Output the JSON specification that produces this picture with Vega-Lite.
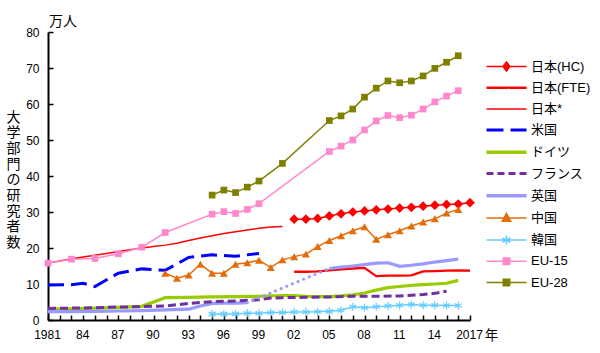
{
  "$schema": "https://vega.github.io/schema/vega-lite/v6.json",
  "width": 422,
  "height": 288,
  "autosize": {"type": "none"},
  "padding": {"left": 48, "top": 32, "right": 130, "bottom": 33},
  "background": "white",
  "config": {"font": "Liberation Sans, Noto Sans CJK JP", "view": {"stroke": null}},
  "title": {"text": "万人", "anchor": "start", "frame": "group", "fontSize": 14, "fontWeight": "normal", "font": "Noto Sans CJK JP", "offset": 6, "dy": 9, "dx": 1, "color": "black"},
  "datasets": {
    "d": [
      {"s": "日本(HC)", "x": 2002, "v": 28.0}, {"s": "日本(HC)", "x": 2003, "v": 28.0}, {"s": "日本(HC)", "x": 2004, "v": 28.2}, {"s": "日本(HC)", "x": 2005, "v": 28.9}, {"s": "日本(HC)", "x": 2006, "v": 29.5}, {"s": "日本(HC)", "x": 2007, "v": 30.0}, {"s": "日本(HC)", "x": 2008, "v": 30.3}, {"s": "日本(HC)", "x": 2009, "v": 30.6}, {"s": "日本(HC)", "x": 2010, "v": 30.8}, {"s": "日本(HC)", "x": 2011, "v": 31.1}, {"s": "日本(HC)", "x": 2012, "v": 31.3}, {"s": "日本(HC)", "x": 2013, "v": 31.6}, {"s": "日本(HC)", "x": 2014, "v": 31.9}, {"s": "日本(HC)", "x": 2015, "v": 32.1}, {"s": "日本(HC)", "x": 2016, "v": 32.2}, {"s": "日本(HC)", "x": 2017, "v": 32.6},
      {"s": "日本(FTE)", "x": 2002, "v": 13.4}, {"s": "日本(FTE)", "x": 2003, "v": 13.4}, {"s": "日本(FTE)", "x": 2004, "v": 13.5}, {"s": "日本(FTE)", "x": 2005, "v": 13.8}, {"s": "日本(FTE)", "x": 2006, "v": 14.1}, {"s": "日本(FTE)", "x": 2007, "v": 14.3}, {"s": "日本(FTE)", "x": 2008, "v": 14.5}, {"s": "日本(FTE)", "x": 2009, "v": 12.2}, {"s": "日本(FTE)", "x": 2010, "v": 12.3}, {"s": "日本(FTE)", "x": 2011, "v": 12.3}, {"s": "日本(FTE)", "x": 2012, "v": 12.4}, {"s": "日本(FTE)", "x": 2013, "v": 13.5}, {"s": "日本(FTE)", "x": 2014, "v": 13.6}, {"s": "日本(FTE)", "x": 2015, "v": 13.7}, {"s": "日本(FTE)", "x": 2016, "v": 13.8}, {"s": "日本(FTE)", "x": 2017, "v": 13.7},
      {"s": "日本*", "x": 1981, "v": 15.8}, {"s": "日本*", "x": 1982, "v": 16.4}, {"s": "日本*", "x": 1983, "v": 17.0}, {"s": "日本*", "x": 1984, "v": 17.5}, {"s": "日本*", "x": 1985, "v": 18.0}, {"s": "日本*", "x": 1986, "v": 18.5}, {"s": "日本*", "x": 1987, "v": 19.0}, {"s": "日本*", "x": 1988, "v": 19.5}, {"s": "日本*", "x": 1989, "v": 20.0}, {"s": "日本*", "x": 1990, "v": 20.4}, {"s": "日本*", "x": 1991, "v": 20.8}, {"s": "日本*", "x": 1992, "v": 21.3}, {"s": "日本*", "x": 1993, "v": 22.1}, {"s": "日本*", "x": 1994, "v": 22.8}, {"s": "日本*", "x": 1995, "v": 23.4}, {"s": "日本*", "x": 1996, "v": 24.0}, {"s": "日本*", "x": 1997, "v": 24.5}, {"s": "日本*", "x": 1998, "v": 25.0}, {"s": "日本*", "x": 1999, "v": 25.5}, {"s": "日本*", "x": 2000, "v": 25.8}, {"s": "日本*", "x": 2001, "v": 26.0},
      {"s": "米国", "x": 1981, "v": 9.7}, {"s": "米国", "x": 1983, "v": 9.8}, {"s": "米国", "x": 1984, "v": 10.2}, {"s": "米国", "x": 1985, "v": 9.3}, {"s": "米国", "x": 1987, "v": 13.0}, {"s": "米国", "x": 1989, "v": 14.2}, {"s": "米国", "x": 1991, "v": 13.8}, {"s": "米国", "x": 1993, "v": 17.4}, {"s": "米国", "x": 1995, "v": 18.1}, {"s": "米国", "x": 1997, "v": 17.7}, {"s": "米国", "x": 1999, "v": 18.5},
      {"s": "ドイツ", "x": 1981, "v": 3.0}, {"s": "ドイツ", "x": 1983, "v": 3.1}, {"s": "ドイツ", "x": 1985, "v": 3.3}, {"s": "ドイツ", "x": 1987, "v": 3.5}, {"s": "ドイツ", "x": 1989, "v": 3.8}, {"s": "ドイツ", "x": 1991, "v": 6.2}, {"s": "ドイツ", "x": 1993, "v": 6.3}, {"s": "ドイツ", "x": 1995, "v": 6.4}, {"s": "ドイツ", "x": 1997, "v": 6.5}, {"s": "ドイツ", "x": 1999, "v": 6.6}, {"s": "ドイツ", "x": 2001, "v": 6.8}, {"s": "ドイツ", "x": 2002, "v": 6.8}, {"s": "ドイツ", "x": 2003, "v": 6.6}, {"s": "ドイツ", "x": 2004, "v": 6.5}, {"s": "ドイツ", "x": 2005, "v": 6.5}, {"s": "ドイツ", "x": 2006, "v": 6.7}, {"s": "ドイツ", "x": 2007, "v": 7.0}, {"s": "ドイツ", "x": 2008, "v": 7.5}, {"s": "ドイツ", "x": 2009, "v": 8.3}, {"s": "ドイツ", "x": 2010, "v": 9.0}, {"s": "ドイツ", "x": 2011, "v": 9.3}, {"s": "ドイツ", "x": 2012, "v": 9.6}, {"s": "ドイツ", "x": 2013, "v": 9.8}, {"s": "ドイツ", "x": 2014, "v": 10.0}, {"s": "ドイツ", "x": 2015, "v": 10.2}, {"s": "ドイツ", "x": 2016, "v": 11.0},
      {"s": "フランス", "x": 1981, "v": 3.2}, {"s": "フランス", "x": 1983, "v": 3.3}, {"s": "フランス", "x": 1985, "v": 3.4}, {"s": "フランス", "x": 1987, "v": 3.6}, {"s": "フランス", "x": 1989, "v": 3.7}, {"s": "フランス", "x": 1991, "v": 3.9}, {"s": "フランス", "x": 1993, "v": 4.6}, {"s": "フランス", "x": 1995, "v": 5.1}, {"s": "フランス", "x": 1997, "v": 5.3}, {"s": "フランス", "x": 1999, "v": 5.6}, {"s": "フランス", "x": 2000, "v": 6.1}, {"s": "フランス", "x": 2001, "v": 6.2}, {"s": "フランス", "x": 2003, "v": 6.3}, {"s": "フランス", "x": 2005, "v": 6.4}, {"s": "フランス", "x": 2007, "v": 6.6}, {"s": "フランス", "x": 2009, "v": 6.6}, {"s": "フランス", "x": 2011, "v": 6.7}, {"s": "フランス", "x": 2012, "v": 6.9}, {"s": "フランス", "x": 2013, "v": 7.1}, {"s": "フランス", "x": 2014, "v": 7.4}, {"s": "フランス", "x": 2015, "v": 8.0},
      {"s": "英国", "g": "a", "x": 1981, "v": 2.3}, {"s": "英国", "g": "a", "x": 1983, "v": 2.3}, {"s": "英国", "g": "a", "x": 1985, "v": 2.4}, {"s": "英国", "g": "a", "x": 1987, "v": 2.5}, {"s": "英国", "g": "a", "x": 1989, "v": 2.6}, {"s": "英国", "g": "a", "x": 1991, "v": 2.8}, {"s": "英国", "g": "a", "x": 1993, "v": 3.0}, {"s": "英国", "g": "a", "x": 1994, "v": 3.9}, {"s": "英国", "g": "a", "x": 1995, "v": 4.6}, {"s": "英国", "g": "a", "x": 1996, "v": 4.7}, {"s": "英国", "g": "a", "x": 1997, "v": 4.7}, {"s": "英国", "g": "a", "x": 1998, "v": 4.8},
      {"s": "英国", "g": "gap", "x": 1998, "v": 4.8}, {"s": "英国", "g": "gap", "x": 2005, "v": 14.3},
      {"s": "英国", "g": "b", "x": 2005, "v": 14.3}, {"s": "英国", "g": "b", "x": 2006, "v": 14.7}, {"s": "英国", "g": "b", "x": 2007, "v": 15.0}, {"s": "英国", "g": "b", "x": 2008, "v": 15.4}, {"s": "英国", "g": "b", "x": 2009, "v": 15.8}, {"s": "英国", "g": "b", "x": 2010, "v": 15.9}, {"s": "英国", "g": "b", "x": 2011, "v": 14.9}, {"s": "英国", "g": "b", "x": 2012, "v": 15.2}, {"s": "英国", "g": "b", "x": 2013, "v": 15.6}, {"s": "英国", "g": "b", "x": 2014, "v": 16.1}, {"s": "英国", "g": "b", "x": 2015, "v": 16.5}, {"s": "英国", "g": "b", "x": 2016, "v": 16.9},
      {"s": "中国", "x": 1991, "v": 13.0}, {"s": "中国", "x": 1992, "v": 11.6}, {"s": "中国", "x": 1993, "v": 12.5}, {"s": "中国", "x": 1994, "v": 15.5}, {"s": "中国", "x": 1995, "v": 13.0}, {"s": "中国", "x": 1996, "v": 13.0}, {"s": "中国", "x": 1997, "v": 15.5}, {"s": "中国", "x": 1998, "v": 15.9}, {"s": "中国", "x": 1999, "v": 16.6}, {"s": "中国", "x": 2000, "v": 14.6}, {"s": "中国", "x": 2001, "v": 16.7}, {"s": "中国", "x": 2002, "v": 17.6}, {"s": "中国", "x": 2003, "v": 18.3}, {"s": "中国", "x": 2004, "v": 20.4}, {"s": "中国", "x": 2005, "v": 22.1}, {"s": "中国", "x": 2006, "v": 23.4}, {"s": "中国", "x": 2007, "v": 24.8}, {"s": "中国", "x": 2008, "v": 25.9}, {"s": "中国", "x": 2009, "v": 22.4}, {"s": "中国", "x": 2010, "v": 23.7}, {"s": "中国", "x": 2011, "v": 24.8}, {"s": "中国", "x": 2012, "v": 26.1}, {"s": "中国", "x": 2013, "v": 27.2}, {"s": "中国", "x": 2014, "v": 28.1}, {"s": "中国", "x": 2015, "v": 29.7}, {"s": "中国", "x": 2016, "v": 30.7},
      {"s": "韓国", "x": 1995, "v": 1.7}, {"s": "韓国", "x": 1996, "v": 1.7}, {"s": "韓国", "x": 1997, "v": 1.7}, {"s": "韓国", "x": 1998, "v": 1.85}, {"s": "韓国", "x": 1999, "v": 1.85}, {"s": "韓国", "x": 2000, "v": 2.1}, {"s": "韓国", "x": 2001, "v": 2.1}, {"s": "韓国", "x": 2002, "v": 2.2}, {"s": "韓国", "x": 2003, "v": 2.2}, {"s": "韓国", "x": 2004, "v": 2.3}, {"s": "韓国", "x": 2005, "v": 2.4}, {"s": "韓国", "x": 2006, "v": 2.7}, {"s": "韓国", "x": 2007, "v": 3.7}, {"s": "韓国", "x": 2008, "v": 3.4}, {"s": "韓国", "x": 2009, "v": 3.7}, {"s": "韓国", "x": 2010, "v": 3.9}, {"s": "韓国", "x": 2011, "v": 4.1}, {"s": "韓国", "x": 2012, "v": 4.3}, {"s": "韓国", "x": 2013, "v": 4.1}, {"s": "韓国", "x": 2014, "v": 4.1}, {"s": "韓国", "x": 2015, "v": 4.0}, {"s": "韓国", "x": 2016, "v": 4.0},
      {"s": "EU-15", "x": 1981, "v": 15.8}, {"s": "EU-15", "x": 1983, "v": 16.9}, {"s": "EU-15", "x": 1985, "v": 17.1}, {"s": "EU-15", "x": 1987, "v": 18.4}, {"s": "EU-15", "x": 1989, "v": 20.2}, {"s": "EU-15", "x": 1991, "v": 24.3}, {"s": "EU-15", "x": 1995, "v": 29.4}, {"s": "EU-15", "x": 1996, "v": 30.1}, {"s": "EU-15", "x": 1997, "v": 29.6}, {"s": "EU-15", "x": 1998, "v": 30.7}, {"s": "EU-15", "x": 1999, "v": 32.3}, {"s": "EU-15", "x": 2005, "v": 46.8}, {"s": "EU-15", "x": 2006, "v": 48.3}, {"s": "EU-15", "x": 2007, "v": 50.0}, {"s": "EU-15", "x": 2008, "v": 52.8}, {"s": "EU-15", "x": 2009, "v": 55.3}, {"s": "EU-15", "x": 2010, "v": 56.8}, {"s": "EU-15", "x": 2011, "v": 56.2}, {"s": "EU-15", "x": 2012, "v": 56.9}, {"s": "EU-15", "x": 2013, "v": 58.6}, {"s": "EU-15", "x": 2014, "v": 60.6}, {"s": "EU-15", "x": 2015, "v": 62.2}, {"s": "EU-15", "x": 2016, "v": 63.7},
      {"s": "EU-28", "x": 1995, "v": 34.7}, {"s": "EU-28", "x": 1996, "v": 36.1}, {"s": "EU-28", "x": 1997, "v": 35.4}, {"s": "EU-28", "x": 1998, "v": 36.9}, {"s": "EU-28", "x": 1999, "v": 38.6}, {"s": "EU-28", "x": 2001, "v": 43.5}, {"s": "EU-28", "x": 2005, "v": 55.4}, {"s": "EU-28", "x": 2006, "v": 56.7}, {"s": "EU-28", "x": 2007, "v": 58.6}, {"s": "EU-28", "x": 2008, "v": 61.9}, {"s": "EU-28", "x": 2009, "v": 64.4}, {"s": "EU-28", "x": 2010, "v": 66.4}, {"s": "EU-28", "x": 2011, "v": 65.9}, {"s": "EU-28", "x": 2012, "v": 66.4}, {"s": "EU-28", "x": 2013, "v": 67.8}, {"s": "EU-28", "x": 2014, "v": 69.9}, {"s": "EU-28", "x": 2015, "v": 71.6}, {"s": "EU-28", "x": 2016, "v": 73.4}
    ]
  },
  "data": {"name": "d"},
  "encoding": {
    "x": {
      "field": "x", "type": "quantitative",
      "scale": {"domain": [1981, 2017], "nice": false, "zero": false},
      "axis": {
        "values": [1981, 1982, 1983, 1984, 1985, 1986, 1987, 1988, 1989, 1990, 1991, 1992, 1993, 1994, 1995, 1996, 1997, 1998, 1999, 2000, 2001, 2002, 2003, 2004, 2005, 2006, 2007, 2008, 2009, 2010, 2011, 2012, 2013, 2014, 2015, 2016, 2017],
        "format": "d",
        "labelExpr": "(datum.value - 1981) % 3 == 0 ? ((datum.value == 1981 || datum.value == 2017) ? datum.label : slice(datum.label, 2)) : ''",
        "labelOverlap": false, "labelFlush": false, "labelOffset": -1,
        "labelFontSize": 12, "labelColor": "black", "labelPadding": 14,
        "tickSize": -5, "tickColor": "black", "tickWidth": 1.5,
        "domainColor": "black", "domainWidth": 2, "grid": false,
        "title": "年", "titleX": 443, "titleY": 15, "titleBaseline": "middle", "titleAlign": "center",
        "titleFontSize": 13.5, "titleFontWeight": "normal", "titleFont": "Noto Sans CJK JP", "titleColor": "black"
      }
    },
    "y": {
      "field": "v", "type": "quantitative",
      "scale": {"domain": [0, 80], "nice": false},
      "axis": {
        "values": [0, 10, 20, 30, 40, 50, 60, 70, 80],
        "labelFontSize": 12, "labelColor": "black", "labelPadding": 14,
        "tickSize": -5, "tickColor": "black", "tickWidth": 1.5,
        "domainColor": "black", "domainWidth": 2, "grid": false,
        "title": ["大", "学", "部", "門", "の", "研", "究", "者", "数"],
        "titleAngle": 0, "titleX": -35, "titleY": 85, "titleAlign": "center", "titleBaseline": "middle",
        "titleLineHeight": 15.7, "titleFontSize": 14, "titleFont": "Noto Sans CJK JP", "titleFontWeight": "normal", "titleColor": "black"
      }
    },
    "color": {
      "field": "s", "type": "nominal",
      "scale": {
        "domain": ["日本(HC)", "日本(FTE)", "日本*", "米国", "ドイツ", "フランス", "英国", "中国", "韓国", "EU-15", "EU-28"],
        "range": ["#FF0000", "#FF0000", "#FF0000", "#0000FF", "#99CC00", "#7030A0", "#9999FF", "#E46C0A", "#66CCFF", "#FF88CC", "#808000"]
      },
      "legend": {
        "orient": "none", "legendX": 437, "legendY": 28, "title": null, "padding": 0,
        "symbolSize": 100, "symbolOffset": 15, "labelOffset": 18, "rowPadding": 7.2,
        "labelFontSize": 13, "labelColor": "black", "labelFont": "Liberation Sans, Noto Sans CJK JP",
        "encode": {
          "symbols": {
            "update": {
              "shape": {"signal": "datum.value === '日本(HC)' ? 'M-4,0H4M0,-0.9L0.7,0L0,0.9L-0.7,0Z' : datum.value === '中国' ? 'M-4,0H4M0,-0.9L0.85,0.65L-0.85,0.65Z' : datum.value === '韓国' ? 'M-4,0H4M0,-0.9V0.9M-0.8,-0.45L0.8,0.45M-0.8,0.45L0.8,-0.45' : (datum.value === 'EU-15' || datum.value === 'EU-28') ? 'M-4,0H4M-0.65,-0.65H0.65V0.65H-0.65Z' : 'M-4,0H4'"},
              "strokeWidth": {"signal": "(datum.value === 'ドイツ' || datum.value === '英国') ? 3.5 : (datum.value === '米国' || datum.value === 'フランス') ? 3 : datum.value === '日本(FTE)' ? 2.5 : 1.5"},
              "strokeDash": {"signal": "datum.value === '米国' ? [17, 7] : datum.value === 'フランス' ? [7, 4] : [1, 0]"},
              "stroke": {"scale": "color", "field": "value"},
              "fill": {"scale": "color", "field": "value"},
              "opacity": {"value": 1}
            }
          }
        }
      }
    }
  },
  "layer": [
    {"transform": [{"filter": "datum.s === '日本*' || datum.s === '中国' || datum.s === '韓国' || datum.s === 'EU-15' || datum.s === 'EU-28' || datum.s === '日本(HC)'"}],
     "mark": {"type": "line", "strokeWidth": 1.5}},
    {"transform": [{"filter": "datum.s === '日本(FTE)'"}],
     "mark": {"type": "line", "strokeWidth": 2.3}},
    {"transform": [{"filter": "datum.s === 'ドイツ' || (datum.s === '英国' && datum.g !== 'gap')"}],
     "mark": {"type": "line", "strokeWidth": 3.2},
     "encoding": {"detail": {"field": "g"}}},
    {"transform": [{"filter": "datum.s === '米国'"}],
     "mark": {"type": "line", "strokeWidth": 3, "strokeDash": [16, 7]}},
    {"transform": [{"filter": "datum.s === 'フランス'"}],
     "mark": {"type": "line", "strokeWidth": 3, "strokeDash": [8, 4]}},
    {"transform": [{"filter": "datum.g === 'gap'"}],
     "mark": {"type": "line", "strokeWidth": 3, "strokeDash": [0.1, 6], "strokeCap": "round"}},
    {"transform": [{"filter": "datum.s === '日本(HC)'"}],
     "mark": {"type": "point", "shape": "diamond", "filled": true, "size": 95, "opacity": 1}},
    {"transform": [{"filter": "datum.s === '中国'"}],
     "mark": {"type": "point", "shape": "triangle-up", "filled": true, "size": 65, "opacity": 1}},
    {"transform": [{"filter": "datum.s === 'EU-15' || datum.s === 'EU-28'"}],
     "mark": {"type": "point", "shape": "square", "filled": true, "size": 45, "opacity": 1}},
    {"transform": [{"filter": "datum.s === '韓国'"}],
     "mark": {"type": "point", "shape": "M0,-1V1M-0.87,-0.5L0.87,0.5M-0.87,0.5L0.87,-0.5", "filled": false, "size": 64, "strokeWidth": 1.2, "opacity": 1}}
  ]
}
